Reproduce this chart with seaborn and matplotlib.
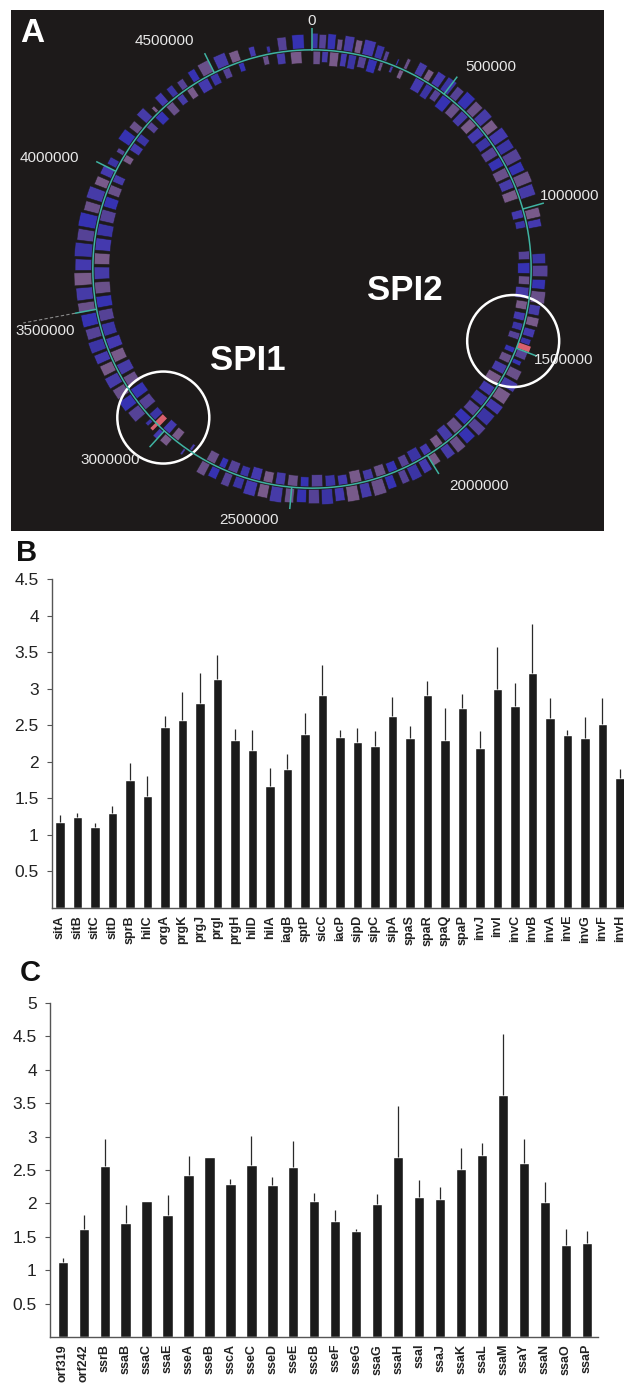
import numpy as np
import pandas as pd
import seaborn as sns
import matplotlib.pyplot as plt
from matplotlib.patches import Rectangle, Circle

sns.set_style("ticks")
plt.rcParams["font.family"] = ["Liberation Sans", "DejaVu Sans"]

# ---- panel A: genome map (positions in kb) ----
GENOME_KB = 4857
scale_ticks = [0, 500000, 1000000, 1500000, 2000000, 2500000, 3000000, 3500000, 4000000, 4500000]

# (start kb, end kb, radial depth) for genes outside / inside the circle
outer_genes = [
    (0, 20, 0.07), (24, 48, 0.065), (53, 80, 0.07), (86, 104, 0.05), (110, 142, 0.07),
    (148, 170, 0.06), (176, 214, 0.07), (220, 246, 0.06), (252, 266, 0.045),
    (300, 306, 0.03), (330, 342, 0.05), (372, 400, 0.06), (408, 430, 0.05),
    (440, 470, 0.065), (478, 512, 0.07), (520, 548, 0.06), (555, 592, 0.07),
    (598, 630, 0.065), (636, 672, 0.07), (678, 712, 0.06), (718, 756, 0.075),
    (762, 796, 0.07), (802, 840, 0.075), (846, 878, 0.065), (884, 922, 0.075),
    (928, 966, 0.07), (1008, 1040, 0.065), (1046, 1072, 0.06), (1162, 1196, 0.06),
    (1202, 1240, 0.07), (1250, 1282, 0.06), (1290, 1330, 0.065), (1338, 1372, 0.05),
    (1380, 1410, 0.055), (1420, 1448, 0.05), (1456, 1476, 0.045), (1500, 1528, 0.05),
    (1536, 1552, 0.04), (1566, 1600, 0.06), (1608, 1640, 0.07), (1648, 1690, 0.065),
    (1698, 1730, 0.07), (1738, 1780, 0.065), (1788, 1822, 0.07), (1830, 1868, 0.06),
    (1876, 1910, 0.065), (1918, 1950, 0.06), (1972, 2000, 0.05), (2010, 2040, 0.06),
    (2050, 2086, 0.065), (2094, 2120, 0.06), (2140, 2170, 0.06), (2178, 2220, 0.07),
    (2228, 2262, 0.065), (2270, 2310, 0.07), (2318, 2350, 0.06), (2358, 2396, 0.07),
    (2404, 2440, 0.065), (2448, 2480, 0.06), (2490, 2520, 0.065), (2530, 2570, 0.07),
    (2578, 2612, 0.06), (2620, 2660, 0.065), (2668, 2700, 0.05), (2712, 2740, 0.06),
    (2760, 2790, 0.05), (2800, 2830, 0.06), (2900, 2908, 0.03), (2960, 2990, 0.04),
    (3000, 3018, 0.045), (3052, 3066, 0.03), (3090, 3130, 0.06), (3138, 3176, 0.065),
    (3184, 3220, 0.06), (3228, 3266, 0.065), (3274, 3310, 0.06), (3318, 3350, 0.065),
    (3358, 3396, 0.07), (3404, 3440, 0.065), (3448, 3490, 0.07), (3498, 3530, 0.075),
    (3538, 3580, 0.075), (3588, 3630, 0.08), (3638, 3676, 0.075), (3684, 3730, 0.08),
    (3738, 3776, 0.075), (3784, 3830, 0.08), (3838, 3870, 0.07), (3880, 3920, 0.075),
    (3930, 3960, 0.06), (3970, 4000, 0.055), (4010, 4036, 0.045), (4060, 4076, 0.035),
    (4100, 4140, 0.06), (4152, 4180, 0.05), (4200, 4232, 0.06), (4250, 4262, 0.03),
    (4282, 4310, 0.055), (4330, 4354, 0.05), (4372, 4396, 0.045), (4420, 4446, 0.055),
    (4460, 4500, 0.06), (4518, 4560, 0.06), (4572, 4604, 0.05), (4640, 4660, 0.045),
    (4700, 4712, 0.03), (4740, 4770, 0.06), (4790, 4830, 0.065),
]
inner_genes = [
    (4, 30, 0.06), (36, 58, 0.05), (64, 96, 0.065), (104, 126, 0.06), (132, 160, 0.065),
    (168, 196, 0.05), (204, 236, 0.06), (246, 258, 0.04), (286, 296, 0.03), (320, 336, 0.04),
    (384, 420, 0.06), (428, 456, 0.065), (464, 490, 0.05), (498, 536, 0.065),
    (544, 578, 0.06), (586, 618, 0.065), (626, 660, 0.06), (668, 704, 0.065),
    (712, 746, 0.06), (754, 790, 0.065), (798, 832, 0.06), (840, 876, 0.065),
    (884, 918, 0.06), (926, 960, 0.065), (1000, 1030, 0.05), (1040, 1066, 0.045),
    (1150, 1180, 0.05), (1192, 1230, 0.055), (1240, 1270, 0.05), (1280, 1320, 0.06),
    (1330, 1360, 0.05), (1372, 1400, 0.05), (1410, 1436, 0.045), (1446, 1470, 0.05),
    (1500, 1520, 0.045), (1530, 1560, 0.05), (1570, 1604, 0.06), (1612, 1650, 0.065),
    (1658, 1694, 0.06), (1702, 1740, 0.065), (1748, 1786, 0.06), (1794, 1830, 0.065),
    (1838, 1876, 0.06), (1884, 1920, 0.065), (1930, 1962, 0.05), (1980, 2010, 0.045),
    (2020, 2060, 0.055), (2070, 2100, 0.05), (2116, 2150, 0.045), (2160, 2196, 0.05),
    (2206, 2240, 0.045), (2250, 2290, 0.055), (2300, 2334, 0.045), (2344, 2380, 0.05),
    (2390, 2430, 0.055), (2440, 2470, 0.045), (2480, 2516, 0.05), (2526, 2560, 0.055),
    (2570, 2604, 0.05), (2614, 2650, 0.055), (2660, 2690, 0.045), (2700, 2736, 0.05),
    (2746, 2770, 0.045), (2786, 2820, 0.05), (2880, 2890, 0.03), (2940, 2970, 0.05),
    (2980, 3010, 0.055), (3050, 3080, 0.05), (3100, 3140, 0.06), (3150, 3190, 0.065),
    (3200, 3240, 0.06), (3250, 3290, 0.065), (3300, 3340, 0.06), (3350, 3390, 0.065),
    (3400, 3444, 0.06), (3454, 3494, 0.065), (3504, 3544, 0.07), (3554, 3596, 0.07),
    (3606, 3650, 0.07), (3660, 3700, 0.07), (3710, 3754, 0.07), (3764, 3806, 0.07),
    (3816, 3858, 0.065), (3868, 3906, 0.06), (3916, 3950, 0.055), (3962, 3990, 0.05),
    (4044, 4070, 0.04), (4090, 4120, 0.05), (4130, 4160, 0.05), (4190, 4216, 0.045),
    (4236, 4270, 0.05), (4290, 4320, 0.055), (4340, 4366, 0.045), (4384, 4410, 0.05),
    (4430, 4470, 0.055), (4480, 4510, 0.05), (4530, 4556, 0.045), (4590, 4610, 0.04),
    (4680, 4700, 0.04), (4730, 4760, 0.05), (4780, 4820, 0.055),
]
# red (induced) genes inside the pathogenicity islands
spi_genes = [(1478, 1498, 1.0, 0.06), (3024, 3046, 0.95, 0.05), (3030, 3042, 1.0, 0.035)]
spi_names = ["SPI2", "SPI1"]
spi_center_kb = [1480, 3036]
spi_center_r = [0.975, 0.959]

# ---- panel B ----
genes_b = ["sitA", "sitB", "sitC", "sitD", "sprB", "hilC", "orgA", "prgK", "prgJ", "prgI",
           "prgH", "hilD", "hilA", "iagB", "sptP", "sicC", "iacP", "sipD", "sipC", "sipA",
           "spaS", "spaR", "spaQ", "spaP", "invJ", "invI", "invC", "invB", "invA", "invE",
           "invG", "invF", "invH"]
ratio_b = [1.18, 1.24, 1.11, 1.30, 1.75, 1.53, 2.47, 2.57, 2.81, 3.13,
           2.30, 2.16, 1.67, 1.90, 2.38, 2.91, 2.34, 2.27, 2.21, 2.62,
           2.32, 2.92, 2.30, 2.74, 2.19, 3.00, 2.76, 3.21, 2.60, 2.36,
           2.32, 2.51, 1.78]
sd_b = [0.09, 0.06, 0.05, 0.10, 0.23, 0.28, 0.15, 0.39, 0.40, 0.33,
        0.15, 0.27, 0.24, 0.20, 0.29, 0.41, 0.10, 0.19, 0.21, 0.27,
        0.17, 0.18, 0.44, 0.19, 0.23, 0.57, 0.32, 0.68, 0.27, 0.08,
        0.29, 0.36, 0.12]
yticks_b = [0.5, 1, 1.5, 2, 2.5, 3, 3.5, 4, 4.5]

# ---- panel C ----
genes_c = ["orf319", "orf242", "ssrB", "ssaB", "ssaC", "ssaE", "sseA", "sseB", "sscA", "sseC",
           "sseD", "sseE", "sscB", "sseF", "sseG", "ssaG", "ssaH", "ssaI", "ssaJ", "ssaK",
           "ssaL", "ssaM", "ssaY", "ssaN", "ssaO", "ssaP"]
ratio_c = [1.12, 1.61, 2.56, 1.71, 2.03, 1.82, 2.42, 2.70, 2.29, 2.58,
           2.27, 2.54, 2.03, 1.73, 1.58, 1.99, 2.69, 2.09, 2.07, 2.51,
           2.72, 3.62, 2.60, 2.02, 1.37, 1.41]
sd_c = [0.07, 0.21, 0.40, 0.26, 0.0, 0.30, 0.29, 0.0, 0.08, 0.43,
        0.12, 0.40, 0.12, 0.17, 0.04, 0.15, 0.77, 0.26, 0.18, 0.32,
        0.19, 0.91, 0.37, 0.30, 0.25, 0.17]
yticks_c = [0.5, 1, 1.5, 2, 2.5, 3, 3.5, 4, 4.5, 5]

W, H = 624, 1389
fig = plt.figure(figsize=(W / 100, H / 100), dpi=100)


def box(x0, y0, x1, y1):
    return [x0 / W, 1 - y1 / H, (x1 - x0) / W, (y1 - y0) / H]


def kb2th(kb):
    return np.deg2rad(np.asarray(kb, dtype=float) / GENOME_KB * 360)


# black panel behind the map
fig.patches.append(Rectangle((11 / W, 1 - 531 / H), 593 / W, 521 / H, transform=fig.transFigure,
                             facecolor="#1d1a1a", edgecolor="none", zorder=-5))

axA = fig.add_axes(box(49, 6, 575, 532), projection="polar")
axA.set_theta_zero_location("N")
axA.set_theta_direction(-1)
axA.set_ylim(0, 1.2)
axA.axis("off")

gene_pal = ["#4038b8", "#5e48a8", "#3a36c8", "#74589a", "#4c40bc", "#86649a", "#4a3ec4"]
og = pd.DataFrame(outer_genes, columns=["start", "end", "depth"])
ig = pd.DataFrame(inner_genes, columns=["start", "end", "depth"])
cols_o = [gene_pal[i % len(gene_pal)] for i in range(len(og))]
cols_i = [gene_pal[(i + 3) % len(gene_pal)] for i in range(len(ig))]
axA.bar(kb2th((og.start + og.end) / 2), og.depth, width=kb2th(og.end - og.start),
        bottom=1.006, color=cols_o, edgecolor="#1d1a1a", linewidth=0.4, alpha=0.88)
axA.bar(kb2th((ig.start + ig.end) / 2), ig.depth, width=kb2th(ig.end - ig.start),
        bottom=0.994 - ig.depth, color=cols_i, edgecolor="#1d1a1a", linewidth=0.4, alpha=0.88)
for s, e, r0, d in spi_genes:
    axA.bar(kb2th((s + e) / 2), d, width=kb2th(e - s), bottom=r0, color="#d8606e", linewidth=0)

ring = np.linspace(0, 2 * np.pi, 721)
axA.plot(ring, np.ones_like(ring), color="#3fb3a2", lw=1.1)
axA.vlines(kb2th(np.array(scale_ticks) / 1000), 1.0, 1.1, color="#3fb3a2", lw=1.1)
t35 = kb2th(3500)
axA.plot([t35, t35], [1.1, 1.34], ls=(0, (3, 2)), color="#8a8a8a", lw=0.8, clip_on=False)

label_th = [0, 41.5, 74.2, 110, 142.4, 194, 226.6, 257, 293, 327]
label_r = [1.13, 1.23, 1.22, 1.22, 1.25, 1.18, 1.27, 1.25, 1.30, 1.24]
for v, th, r in zip(scale_ticks, label_th, label_r):
    axA.text(np.deg2rad(th), r, str(v), color="#e8e8e8", fontsize=11,
             ha="center", va="center", clip_on=False)

for kb, r in zip(spi_center_kb, spi_center_r):
    th = kb2th(kb)
    axA.add_patch(Circle((0.5 + r * np.sin(th) / 2.4, 0.5 + r * np.cos(th) / 2.4), 46 / 526,
                         transform=axA.transAxes, fill=False, ec="white", lw=1.8, clip_on=False))
fig.text(405 / W, 1 - 291 / H, spi_names[0], color="white", fontsize=25, fontweight="bold",
         ha="center", va="center")
fig.text(248 / W, 1 - 361 / H, spi_names[1], color="white", fontsize=25, fontweight="bold",
         ha="center", va="center")
fig.text(32 / W, 1 - 34 / H, "A", color="white", fontsize=24, fontweight="bold",
         ha="center", va="center")


def bar_panel(ax, genes, vals, sd, yticks, ymax, width, xlim):
    sns.barplot(x=genes, y=vals, color="#1b1b1b", saturation=1, width=width, ax=ax)
    ax.errorbar(np.arange(len(genes)), vals, yerr=[np.zeros(len(sd)), sd], fmt="none",
                ecolor="#2a2a2a", elinewidth=0.9, capsize=0)
    ax.set_xlim(*xlim)
    ax.set_ylim(0, ymax)
    ax.set_yticks(yticks)
    ax.set_yticklabels([f"{t:g}" for t in yticks], fontsize=12.5, color="#222")
    ax.set_xticks(range(len(genes)))
    ax.set_xticklabels(genes, rotation=90, fontsize=9, fontweight="bold", color="#222")
    ax.tick_params(axis="x", length=0, pad=5)
    ax.tick_params(axis="y", length=3.5, width=0.8, color="#555", pad=6)
    for side in ["top", "right"]:
        ax.spines[side].set_visible(False)
    for side in ["left", "bottom"]:
        ax.spines[side].set_color("#555")
        ax.spines[side].set_linewidth(1.0)
    ax.set_xlabel("")
    ax.set_ylabel("")
    ax.set_facecolor("none")


axB = fig.add_axes(box(52, 579, 624, 908))
bar_panel(axB, genes_b, ratio_b, sd_b, yticks_b, 4.5, 0.54, (-0.457, 32.23))
fig.text(27 / W, 1 - 553 / H, "B", color="#111", fontsize=21, fontweight="bold",
         ha="center", va="center")

axC = fig.add_axes(box(50, 1003, 598, 1337))
bar_panel(axC, genes_c, ratio_c, sd_c, yticks_c, 5, 0.49, (-0.606, 25.53))
fig.text(30 / W, 1 - 973 / H, "C", color="#111", fontsize=21, fontweight="bold",
         ha="center", va="center")

fig.savefig("out.png", dpi=100)
